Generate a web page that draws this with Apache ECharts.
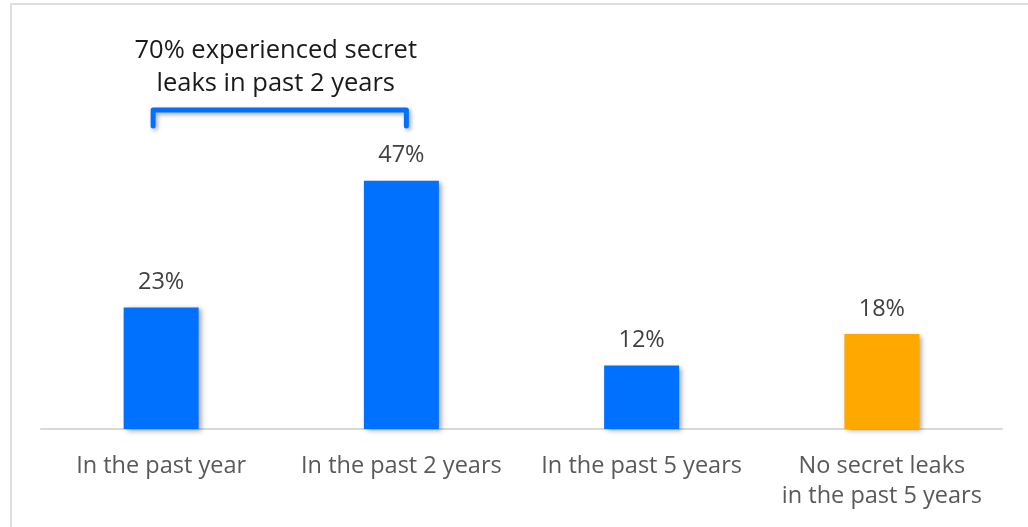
<!DOCTYPE html>
<html>
<head>
<meta charset="utf-8">
<script src="https://cdn.jsdelivr.net/npm/echarts@6/dist/echarts.min.js"></script>
<style>
html,body{margin:0;padding:0;background:#fff;}
#frame{position:absolute;left:10px;top:3px;width:1030px;height:540px;border-left:2px solid #dedede;border-top:2px solid #dedede;}
#chart{position:absolute;left:0;top:0;width:1028px;height:527px;}
</style>
</head>
<body>
<div id="frame"></div>
<div id="chart"></div>
<script>
const categories = ['In the past year', 'In the past 2 years', 'In the past 5 years', 'No secret leaks\nin the past 5 years'];
const values = [23, 47, 12, 18];
const barColors = ['#0070ff', '#0070ff', '#0070ff', '#ffa800'];
const annotationText = '70% experienced secret\nleaks in past 2 years';

const FONT = '"Open Sans", "Noto Sans", sans-serif';
const chart = echarts.init(document.getElementById('chart'));
chart.setOption({
  animation: false,
  grid: { left: 41, right: 26, top: 112, bottom: 98 },
  xAxis: {
    type: 'category',
    data: categories,
    axisTick: { show: false },
    axisLine: { lineStyle: { color: '#d9d9d9', width: 2 } },
    axisLabel: { interval: 0, hideOverlap: false, color: '#595959', fontFamily: FONT, fontSize: 23.5, lineHeight: 30, margin: 22 }
  },
  yAxis: { type: 'value', min: 0, max: 60, show: false },
  series: [{
    type: 'bar',
    barWidth: 75,
    data: values.map((v, i) => ({ value: v, itemStyle: { color: barColors[i] } })),
    itemStyle: { shadowColor: 'rgba(0,0,0,0.35)', shadowBlur: 5, shadowOffsetX: 3, shadowOffsetY: 2 },
    label: {
      show: true, position: 'top', distance: 13,
      formatter: p => p.value + '%',
      color: '#404040', fontFamily: FONT, fontSize: 23.5
    }
  }]
});

const x0 = chart.convertToPixel({ xAxisIndex: 0 }, 0) - 8;
const x1 = chart.convertToPixel({ xAxisIndex: 0 }, 1) + 5;
const yTop = 110, yBot = 126;
chart.setOption({
  graphic: [
    {
      type: 'polyline',
      shape: { points: [[x0, yBot], [x0, yTop], [x1, yTop], [x1, yBot]] },
      style: { fill: null, stroke: '#0070ff', lineWidth: 5, lineJoin: 'round', lineCap: 'round',
               shadowColor: 'rgba(0,0,0,0.35)', shadowBlur: 4, shadowOffsetX: 2, shadowOffsetY: 2 }
    },
    {
      type: 'text',
      x: (x0 + x1) / 2 - 4, y: 67,
      style: {
        text: annotationText, align: 'center', verticalAlign: 'middle',
        fill: '#1a1a1a', font: '25.5px "Open Sans", "Noto Sans", sans-serif', lineHeight: 33
      }
    }
  ]
});
</script>
</body>
</html>
